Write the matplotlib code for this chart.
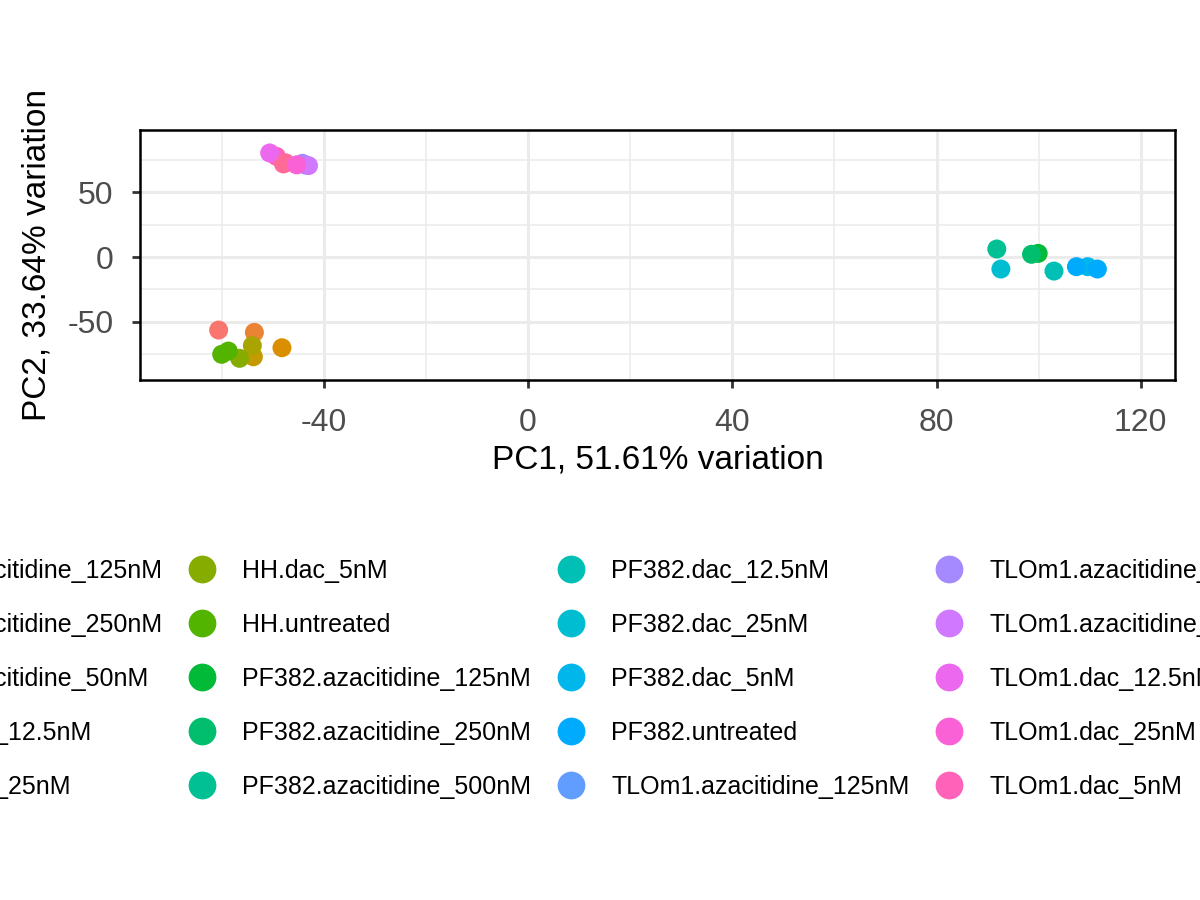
import numpy as np
import matplotlib
matplotlib.use("Agg")
import matplotlib.pyplot as plt
from matplotlib.lines import Line2D

plt.rcParams['font.family'] = ['Liberation Sans', 'DejaVu Sans']
plt.rcParams['axes.unicode_minus'] = False

# groups in legend order
groups = ['HH.azacitidine_125nM', 'HH.azacitidine_250nM', 'HH.azacitidine_50nM',
          'HH.dac_12.5nM', 'HH.dac_25nM', 'HH.dac_5nM', 'HH.untreated',
          'PF382.azacitidine_125nM', 'PF382.azacitidine_250nM', 'PF382.azacitidine_500nM',
          'PF382.dac_12.5nM', 'PF382.dac_25nM', 'PF382.dac_5nM', 'PF382.untreated',
          'TLOm1.azacitidine_125nM', 'TLOm1.azacitidine_250nM', 'TLOm1.azacitidine_500nM',
          'TLOm1.dac_12.5nM', 'TLOm1.dac_25nM', 'TLOm1.dac_5nM', 'TLOm1.untreated']

# samples (drawing order), group index, PC1, PC2
sample_group = [0, 1, 2, 3, 4, 5, 6, 6,
                7, 8, 9, 10, 11, 12, 13, 13,
                14, 15, 16, 19, 20, 20, 17, 18]
pc1 = [-60.6, -53.6, -48.2, -53.8, -54.0, -56.5, -60.0, -58.7,
       99.9, 98.6, 91.8, 103.0, 92.6, 109.6, 107.4, 111.5,
       -43.6, -44.2, -43.0, -49.3, -47.5, -47.9, -50.6, -45.3]
pc2 = [-56.6, -58.4, -70.3, -77.3, -68.7, -78.5, -75.4, -72.9,
       2.8, 2.1, 6.2, -10.9, -9.3, -7.5, -7.5, -9.3,
       71.3, 72.6, 70.8, 78.0, 73.0, 72.1, 80.6, 71.4]

xticks = [-40, 0, 40, 80, 120]
yticks = [-50, 0, 50]


def hcl_hex(h, c=100.0, l=65.0):
    # polar LUV -> sRGB, like R's hcl()
    hr = np.deg2rad(h)
    U, V = c * np.cos(hr), c * np.sin(hr)
    Xn, Yn, Zn = 95.047, 100.0, 108.883
    Y = Yn * ((l + 16) / 116) ** 3
    den = Xn + 15 * Yn + 3 * Zn
    u = U / (13 * l) + 4 * Xn / den
    v = V / (13 * l) + 9 * Yn / den
    X = 9 * Y * u / (4 * v)
    Z = -X / 3 - 5 * Y + 3 * Y / v
    M = np.array([[3.240479, -1.537150, -0.498535],
                  [-0.969256, 1.875992, 0.041556],
                  [0.055648, -0.204043, 1.057311]])
    rgb = M @ (np.array([X, Y, Z]) / 100)
    rgb = np.where(rgb <= 0.0031308, 12.92 * rgb, 1.055 * np.abs(rgb) ** (1 / 2.4) - 0.055)
    return tuple(np.clip(rgb, 0, 1))


n = len(groups)
colors = [hcl_hex(15 + i * 360 / n) for i in range(n)]

fig = plt.figure(figsize=(12, 9), dpi=100)
ax = fig.add_axes([140 / 1200, 1 - 380 / 900, 1035 / 1200, 250 / 900])

ax.scatter(pc1, pc2, s=187, c=[colors[g] for g in sample_group], linewidths=0, zorder=3)

ax.set_xlim(-76.0, 126.7)
ax.set_ylim(-95.3, 98.4)
ax.set_xticks(xticks)
ax.set_yticks(yticks)
ax.set_xticks([-60, -20, 20, 60, 100], minor=True)
ax.set_yticks([-75, -25, 25, 75], minor=True)
ax.grid(True, which='major', color='#EBEBEB', lw=2.2, zorder=0)
ax.grid(True, which='minor', color='#EBEBEB', lw=1.1, zorder=0)
ax.set_axisbelow(True)
ax.tick_params(which='minor', length=0)
ax.tick_params(which='major', length=6, width=2, color='#333333',
               labelsize=23, labelcolor='#4D4D4D')
ax.tick_params(axis='x', pad=14)
ax.tick_params(axis='y', pad=13)
for sp in ax.spines.values():
    sp.set_color('black')
    sp.set_linewidth(1.8)

fig.text(658 / 1200, 1 - 460 / 900, 'PC1, 51.61% variation', fontsize=24,
         ha='center', va='center')
fig.text(37 / 1200, 1 - 255 / 900, 'PC2, 33.64% variation', fontsize=24,
         ha='center', va='center', rotation=90)

handles = [Line2D([], [], ls='', marker='o', markersize=20, markeredgewidth=0,
                  color=colors[i]) for i in range(n)]
labels = list(groups)
# pad to 5 full rows per column
while len(handles) < 25:
    handles.append(Line2D([], [], ls='', marker=''))
    labels.append('')

fig.legend(handles, labels, ncol=5, loc='center', bbox_to_anchor=(0.5915, 1 - 679 / 900),
           frameon=False, fontsize=18, handlelength=1.2, handletextpad=1.0,
           columnspacing=1.0, labelspacing=1.2)

fig.savefig('out.png', dpi=100)
